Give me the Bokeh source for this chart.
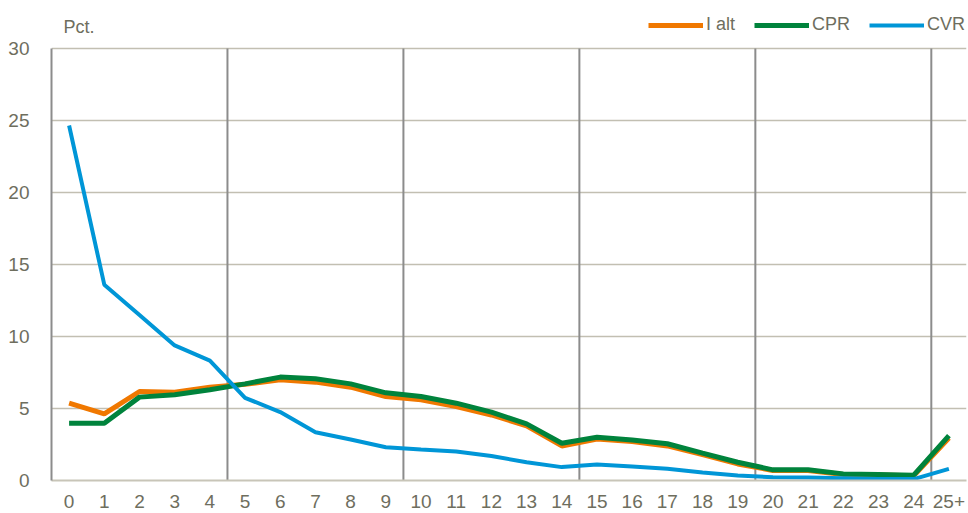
from bokeh.plotting import figure
from bokeh.models import Legend, LegendItem, FixedTicker, ColumnDataSource, Label
from bokeh.embed import file_html
from bokeh.resources import INLINE

categories = [str(i) for i in range(25)] + ["25+"]
i_alt = [5.37, 4.63, 6.18, 6.13, 6.48, 6.68, 6.99, 6.83, 6.48, 5.83, 5.60, 5.14, 4.55,
         3.80, 2.40, 2.88, 2.70, 2.40, 1.80, 1.15, 0.70, 0.70, 0.42, 0.38, 0.33, 2.95]
cpr = [3.98, 3.98, 5.79, 5.95, 6.30, 6.71, 7.18, 7.06, 6.71, 6.09, 5.83, 5.37, 4.75,
       3.93, 2.59, 3.00, 2.82, 2.55, 1.90, 1.27, 0.74, 0.74, 0.46, 0.42, 0.37, 3.12]
cvr = [24.65, 13.6, 11.5, 9.38, 8.33, 5.74, 4.75, 3.35, 2.85, 2.31, 2.15, 2.01, 1.70,
       1.27, 0.93, 1.11, 0.97, 0.81, 0.56, 0.35, 0.23, 0.20, 0.15, 0.10, 0.10, 0.81]
y_ticks = [0, 5, 10, 15, 20, 25, 30]

FONT = "Liberation Sans"
TXT = "#6e6e5e"

PX_PER_UNIT = 14.4          # 432 px for 30 units
HEADROOM_PX = 40            # space above the 30-line for unit label and legend
y_top = y_ticks[-1] + HEADROOM_PX / PX_PER_UNIT

src = ColumnDataSource(dict(cat=categories, ialt=i_alt, cpr=cpr, cvr=cvr))

p = figure(x_range=categories, y_range=(0, y_top), frame_width=915, frame_height=472,
           min_border_left=51, min_border_right=2, min_border_top=8, min_border_bottom=20,
           output_backend="svg", toolbar_location=None, outline_line_color=None)

# vertical separators every 5 categories, spanning 0..30
seps = list(range(5, len(categories), 5))
p.segment(x0=seps, x1=seps, y0=[y_ticks[0]] * len(seps), y1=[y_ticks[-1]] * len(seps),
          line_color="#8c8c8c", line_width=2)

r1 = p.line("cat", "ialt", source=src, line_color="#F07800", line_width=5)
r2 = p.line("cat", "cpr", source=src, line_color="#00833C", line_width=5)
r3 = p.line("cat", "cvr", source=src, line_color="#0096D7", line_width=4)

p.xgrid.grid_line_color = None
p.ygrid.grid_line_color = "#c2bfb2"
p.ygrid.grid_line_width = 1.5
p.yaxis.ticker = FixedTicker(ticks=y_ticks)
p.yaxis.bounds = (y_ticks[0], y_ticks[-1])

for ax in (p.xaxis, p.yaxis):
    ax.major_tick_line_color = None
    ax.minor_tick_line_color = None
    ax.major_label_text_font = FONT
    ax.major_label_text_font_size = "19px"
    ax.major_label_text_color = TXT

p.yaxis.axis_line_color = "#8c8c8c"
p.yaxis.axis_line_width = 2
p.yaxis.major_label_standoff = 16
p.xaxis.axis_line_color = "#c8c5b8"
p.xaxis.axis_line_width = 2
p.xaxis.major_label_standoff = 8

p.add_layout(Label(x=0, y=y_ticks[-1] + 22 / PX_PER_UNIT, x_offset=12, text="Pct.",
                   text_font=FONT, text_font_size="18px", text_color=TXT,
                   text_baseline="middle"))

legend = Legend(items=[LegendItem(label="I alt", renderers=[r1]),
                       LegendItem(label="CPR", renderers=[r2]),
                       LegendItem(label="CVR", renderers=[r3])],
                orientation="horizontal", location=(597, 445),
                glyph_width=55, glyph_height=20, label_standoff=3, spacing=19,
                padding=0, margin=0, background_fill_alpha=0, border_line_color=None,
                label_text_font=FONT, label_text_font_size="18px", label_text_color=TXT)
p.add_layout(legend)

open("out.html", "w").write(file_html(p, INLINE))
